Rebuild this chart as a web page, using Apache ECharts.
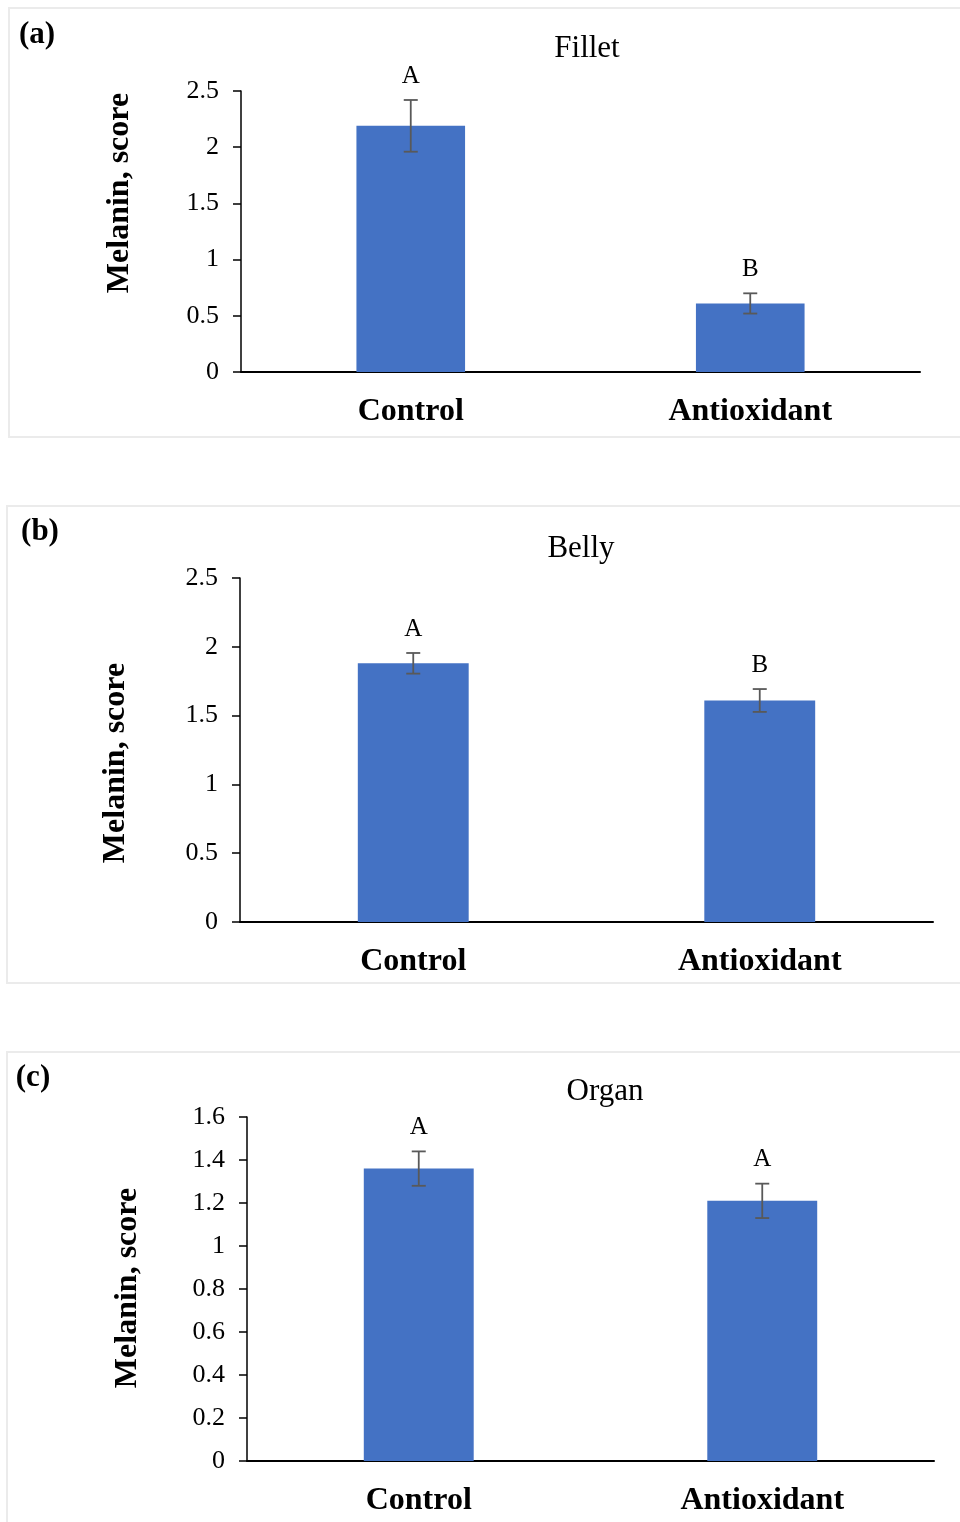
<!DOCTYPE html>
<html>
<head>
<meta charset="utf-8">
<script src="https://cdn.jsdelivr.net/npm/echarts@6/dist/echarts.min.js"></script>
<style>
html,body{margin:0;padding:0;background:#fff;}
#chart{width:960px;height:1522px;}
</style>
</head>
<body>
<div id="chart"></div>
<script>
const categories = ['Control', 'Antioxidant'];
const panelTitles = ['Fillet', 'Belly', 'Organ'];
const panelTags = ['(a)', '(b)', '(c)'];
const yAxisTitle = 'Melanin, score';
const filletMeans = [2.19, 0.61];
const filletErr = [0.23, 0.09];
const filletLetters = ['A', 'B'];
const bellyMeans = [1.88, 1.61];
const bellyErr = [0.075, 0.083];
const bellyLetters = ['A', 'B'];
const organMeans = [1.36, 1.21];
const organErr = [0.08, 0.08];
const organLetters = ['A', 'A'];
const yMax = [2.5, 2.5, 1.6];
const yInterval = [0.5, 0.5, 0.2];

const FONT = '"Liberation Serif", "Times New Roman", serif';
const panels = [
  {means: filletMeans, err: filletErr, letters: filletLetters},
  {means: bellyMeans, err: bellyErr, letters: bellyLetters},
  {means: organMeans, err: organErr, letters: organLetters}
];
const grids = [
  {left: 241, right: 40, top: 91, height: 281},
  {left: 240, right: 27, top: 578, height: 344},
  {left: 247, right: 26, top: 1117, height: 344}
];
const titlePos = [{x: 587, y: 49}, {x: 581, y: 549}, {x: 605, y: 1092}];
const tagPos = [{x: 37, y: 35}, {x: 40, y: 532}, {x: 33, y: 1078}];
const yNamePos = [{x: 120, y: 193}, {x: 116, y: 763}, {x: 128, y: 1288}];
const boxes = [
  {x: 9, y: 8, w: 1000, h: 429},
  {x: 7, y: 506, w: 1000, h: 477},
  {x: 7, y: 1052, w: 1000, h: 520}
];

const graphics = boxes.map(b => ({
  type: 'rect', z: -10, silent: true,
  shape: {x: b.x, y: b.y, width: b.w, height: b.h},
  style: {fill: 'none', stroke: '#ebebeb', lineWidth: 2}
}));
panelTags.forEach((t, i) => graphics.push({
  type: 'text', x: tagPos[i].x, y: tagPos[i].y,
  style: {text: t, font: 'bold 31px ' + FONT, fill: '#000', textAlign: 'center', textVerticalAlign: 'middle'}
}));
panelTitles.forEach((t, i) => graphics.push({
  type: 'text', x: titlePos[i].x, y: titlePos[i].y,
  style: {text: t, font: '31px ' + FONT, fill: '#000', textAlign: 'center', textVerticalAlign: 'middle'}
}));
yNamePos.forEach((p, i) => graphics.push({
  type: 'text', x: p.x, y: p.y, rotation: Math.PI / 2,
  style: {text: yAxisTitle, font: 'bold 32px ' + FONT, fill: '#000', textAlign: 'center', textVerticalAlign: 'middle'}
}));

const option = {
  animation: false,
  backgroundColor: '#ffffff',
  textStyle: {fontFamily: FONT},
  grid: grids.map(g => ({left: g.left, right: g.right, top: g.top, height: g.height, containLabel: false})),
  xAxis: grids.map((g, i) => ({
    type: 'category', gridIndex: i, data: categories,
    axisLine: {lineStyle: {color: '#000', width: 2}},
    axisTick: {show: false},
    axisLabel: {fontFamily: FONT, fontSize: 32, fontWeight: 'bold', color: '#000', margin: 24}
  })),
  yAxis: grids.map((g, i) => ({
    type: 'value', gridIndex: i, min: 0, max: yMax[i], interval: yInterval[i],
    axisLine: {show: true, lineStyle: {color: '#000', width: 1.5}},
    axisTick: {show: true, length: 8, lineStyle: {color: '#000', width: 1.5}},
    splitLine: {show: false},
    axisLabel: {fontFamily: FONT, fontSize: 26, color: '#000', margin: 22,
      formatter: v => String(Math.round(v * 10) / 10)}
  })),
  graphic: graphics,
  series: []
};

panels.forEach((p, i) => {
  option.series.push({
    type: 'bar', xAxisIndex: i, yAxisIndex: i, barWidth: '32%',
    itemStyle: {color: '#4472C4'},
    data: p.means
  });
  option.series.push({
    type: 'custom', xAxisIndex: i, yAxisIndex: i, z: 10,
    data: p.means.map((m, k) => [k, m, p.err[k]]),
    renderItem: function (params, api) {
      const k = api.value(0), m = api.value(1), e = api.value(2);
      const letter = p.letters[params.dataIndex];
      const top = api.coord([k, m + e]);
      const bot = api.coord([k, m - e]);
      const cap = 7;
      const st = {stroke: '#595959', lineWidth: 1.8};
      return {
        type: 'group',
        children: [
          {type: 'line', shape: {x1: top[0], y1: top[1], x2: bot[0], y2: bot[1]}, style: st},
          {type: 'line', shape: {x1: top[0] - cap, y1: top[1], x2: top[0] + cap, y2: top[1]}, style: st},
          {type: 'line', shape: {x1: bot[0] - cap, y1: bot[1], x2: bot[0] + cap, y2: bot[1]}, style: st},
          {type: 'text', x: top[0], y: top[1] - 24,
            style: {text: letter, font: '25px ' + FONT, fill: '#000', textAlign: 'center', textVerticalAlign: 'middle'}}
        ]
      };
    }
  });
});

const chart = echarts.init(document.getElementById('chart'), null, {renderer: 'canvas'});
chart.setOption(option);
</script>
</body>
</html>
